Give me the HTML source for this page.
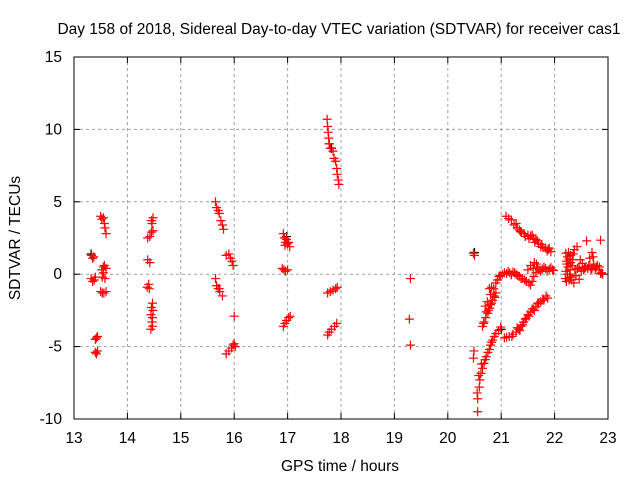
<!DOCTYPE html>
<html><head><meta charset="utf-8"><style>
body{margin:0;background:#fff}
svg text{font-family:"Liberation Sans",sans-serif;font-size:15.5px;fill:#000}
</style></head><body>
<svg id="chart" width="640" height="480">
<text x="339" y="34" text-anchor="middle">Day 158 of 2018, Sidereal Day-to-day VTEC variation (SDTVAR) for receiver cas1</text>
<text x="340" y="471" text-anchor="middle">GPS time / hours</text>
<text transform="translate(20,238) rotate(-90)" text-anchor="middle">SDTVAR / TECUs</text>
<g id="grid"></g><g id="ticks"></g><g id="marks"></g>
<rect x="74" y="57" width="534" height="362" fill="none" stroke="#000"/>
</svg>
<script>
const xTicks=[13,14,15,16,17,18,19,20,21,22,23];
const yTicks=[-10,-5,0,5,10,15];
const blackPts=[[13.32,1.4],[17.78,9.0],[17.82,8.7],[21.0,-3.8],[20.5,1.5],[16.98,2.6]];
const redPts=[
[13.33,1.3],[13.35,1.1],[13.37,1.2],[13.32,-0.3],[13.35,-0.5],[13.38,-0.4],[13.4,-0.2],
[13.42,-4.4],[13.44,-4.3],[13.40,-4.5],[13.42,-5.5],[13.44,-5.3],[13.40,-5.4],
[13.5,4.0],[13.52,3.8],[13.55,3.9],[13.57,3.5],[13.58,3.2],[13.6,2.8],
[13.52,0.3],[13.55,0.5],[13.57,0.6],[13.6,0.4],[13.55,0.1],[13.53,-0.2],[13.58,-0.3],
[13.5,-1.2],[13.53,-1.3],[13.56,-1.3],[13.6,-1.2],
[14.38,2.5],[14.42,2.6],[14.45,2.9],[14.48,3.0],[14.45,3.7],[14.48,3.9],[14.46,3.5],
[14.38,1.0],[14.42,0.8],[14.37,-0.9],[14.41,-1.0],[14.4,-0.7],
[14.45,-2.3],[14.47,-2.0],[14.48,-2.5],[14.44,-2.8],[14.47,-3.0],[14.46,-3.3],[14.44,-3.8],[14.47,-3.6],
[15.65,5.0],[15.67,4.6],[15.7,4.4],[15.72,4.2],[15.75,3.7],[15.78,3.4],[15.8,3.1],
[15.65,-0.3],[15.67,-0.8],[15.7,-1.0],[15.73,-1.2],[15.78,-1.5],[15.72,-1.0],
[15.85,1.3],[15.9,1.4],[15.93,1.1],[15.96,0.9],[15.98,0.6],
[15.85,-5.5],[15.9,-5.3],[15.95,-5.1],[15.98,-4.9],[16.0,-4.8],[16.02,-5.0],[16.0,-2.9],
[16.92,2.8],[16.94,2.5],[16.96,2.2],[16.98,2.4],[17.0,2.1],[17.02,2.2],[17.04,1.9],[16.95,2.0],
[16.9,0.4],[16.93,0.3],[16.96,0.2],[17.0,0.3],
[16.92,-3.6],[16.95,-3.4],[16.98,-3.2],[17.02,-3.0],[17.05,-2.9],
[17.74,10.7],[17.75,10.2],[17.76,9.8],[17.77,9.4],[17.78,9.0],[17.8,8.7],[17.85,8.5],[17.87,8.0],[17.9,7.8],[17.92,7.3],[17.93,6.9],[17.95,6.5],[17.96,6.2],
[17.75,-1.3],[17.8,-1.2],[17.85,-1.1],[17.9,-1.0],[17.93,-0.9],
[17.75,-4.2],[17.78,-4.0],[17.82,-3.8],[17.88,-3.6],[17.92,-3.4],
[19.3,-0.3],[19.28,-3.1],[19.3,-4.9],
[20.48,1.45],[20.5,1.3],[20.49,-5.3],[20.48,-5.8],
[20.56,-9.5],[20.56,-8.6],[20.55,-8.2],[20.59,-7.8],[20.6,-7.3],[20.62,-6.85],[20.65,-6.5],[20.68,-6.15],[20.72,-5.7],[20.78,-5.2],[20.8,-4.9],[20.84,-4.55],[20.9,-4.1],[20.95,-3.9],[20.99,-3.65],
[20.58,-7.0],[20.63,-6.2],[20.7,-5.9],[20.75,-5.4],[20.82,-4.7],[20.87,-4.3],
[20.65,-3.6],[20.68,-3.3],[20.71,-3.0],[20.75,-2.7],[20.78,-2.35],[20.8,-2.1],[20.84,-1.8],[20.87,-1.5],[20.9,-1.3],[20.78,-1.0],[20.82,-0.9],[20.9,-0.6],[20.96,-0.15],[21.02,0.0],
[20.67,-3.4],[20.72,-2.6],[20.76,-2.5],[20.82,-2.0],[20.88,-1.6],[20.7,-2.2],[20.74,-1.9],[20.8,-1.4],[20.86,-1.0],[20.93,-0.4],[20.98,-0.1],
[21.1,0.05],[21.16,0.1],[21.22,0.15],[21.28,0.0],[21.34,-0.15],[21.4,-0.3],[21.47,-0.5],[21.55,-0.75],[21.58,-0.5],[21.61,-0.15],[21.65,0.1],[21.71,0.3],[21.77,0.35],[21.83,0.4],[21.9,0.35],[21.96,0.3],[21.55,0.6],[21.5,0.3],
[21.06,0.1],[21.13,0.2],[21.19,-0.05],[21.25,0.1],[21.31,-0.1],[21.37,-0.3],[21.44,-0.4],[21.52,-0.6],[21.6,0.4],[21.68,0.5],[21.74,0.2],[21.8,0.5],[21.86,0.2],[21.93,0.45],[21.98,0.25],[21.62,0.8],[21.66,0.7],
[21.09,4.0],[21.14,3.85],[21.19,3.75],[21.28,3.5],[21.3,3.2],[21.34,3.05],[21.38,2.9],[21.43,2.8],[21.5,2.7],[21.55,2.65],[21.6,2.5],[21.65,2.4],[21.7,2.1],[21.74,1.9],[21.78,1.85],[21.83,1.8],[21.88,1.7],[21.93,1.55],
[21.24,3.4],[21.36,2.95],[21.45,2.6],[21.52,2.45],[21.58,2.7],[21.63,2.2],[21.68,2.3],[21.76,2.05],[21.86,1.6],[21.9,1.8],
[21.06,-4.4],[21.1,-4.35],[21.15,-4.3],[21.22,-4.15],[21.28,-4.0],[21.33,-3.8],[21.37,-3.6],[21.42,-3.3],[21.47,-3.05],[21.5,-2.8],[21.55,-2.6],[21.6,-2.4],[21.65,-2.25],[21.7,-2.05],[21.74,-1.9],[21.8,-1.8],[21.87,-1.65],
[21.2,-4.3],[21.3,-3.7],[21.35,-3.9],[21.4,-3.5],[21.45,-3.1],[21.52,-2.9],[21.58,-2.4],[21.62,-2.5],[21.68,-2.0],[21.78,-1.7],[21.84,-1.5],
[22.21,1.45],[22.24,1.2],[22.27,1.05],[22.3,0.8],[22.33,0.6],[22.21,0.2],[22.24,0.0],[22.27,-0.4],[22.3,-0.2],[22.36,-0.6],[22.42,1.9],[22.4,-0.1],[22.46,0.5],[22.5,0.2],[22.52,0.75],[22.56,0.4],[22.6,2.3],[22.7,1.5],[22.64,0.6],[22.68,0.3],[22.73,0.7],[22.78,0.5],[22.83,0.3],[22.86,0.05],[22.86,2.35],[22.46,-0.35],[22.22,0.9],[22.35,1.4],[22.38,0.3],[22.25,0.5],
[22.2,-0.3],[22.23,0.7],[22.26,1.5],[22.29,0.3],[22.32,-0.4],[22.34,1.0],[22.37,1.7],[22.3,1.3],[22.22,-0.5],[22.28,0.0],[22.43,0.4],[22.48,1.0],[22.54,0.3],[22.58,0.5],[22.62,0.4],[22.66,1.1],[22.7,0.4],[22.76,0.3],[22.8,0.6],[22.88,0.1],[22.9,0.0],[22.72,1.2],[22.84,0.5]
];
const NS='http://www.w3.org/2000/svg';
const X0=74,X1=608,Y0=419,Y1=57;
function sx(v){return X0+(v-13)/(23-13)*(X1-X0);}
function sy(v){return Y0-(v+10)/(15+10)*(Y0-Y1);}
function mk(tag,attrs,parent){const e=document.createElementNS(NS,tag);for(const k in attrs)e.setAttribute(k,attrs[k]);parent.appendChild(e);return e;}
const grid=document.getElementById('grid'),ticks=document.getElementById('ticks'),marks=document.getElementById('marks');
xTicks.forEach(t=>{const x=sx(t);
 if(t>13&&t<23){const g=mk('line',{x1:x,x2:x,y1:Y0,y2:Y1,stroke:'#a0a0a0','stroke-dasharray':'3,3'},grid);}
 mk('line',{x1:x,x2:x,y1:Y0,y2:Y0-6,stroke:'#000'},ticks);mk('line',{x1:x,x2:x,y1:Y1,y2:Y1+6,stroke:'#000'},ticks);
 const l=mk('text',{x:x,y:Y0+24,'text-anchor':'middle'},ticks);l.textContent=t;
 
 });
yTicks.forEach(t=>{const y=sy(t);
 if(t>-10&&t<15){const g=mk('line',{x1:X0,x2:X1,y1:y,y2:y,stroke:'#a0a0a0','stroke-dasharray':'3,3'},grid);}
 mk('line',{x1:X0,x2:X0+6,y1:y,y2:y,stroke:'#000'},ticks);mk('line',{x1:X1,x2:X1-6,y1:y,y2:y,stroke:'#000'},ticks);
 const l=mk('text',{x:X0-12,y:y+5,'text-anchor':'end'},ticks);l.textContent=t;
 
 });
function plus(p,color,name){const x=sx(p[0]),y=sy(p[1]);
 const el=mk('path',{d:`M${x-4.5},${y}H${x+4.5}M${x},${y-4.5}V${y+4.5}`,stroke:color,'stroke-width':1.2},marks);
 
 }
blackPts.forEach(p=>plus(p,'#000','black-point'));
redPts.forEach(p=>plus(p,'#ff0000','sdtvar-point'));
</script>
</body></html>
